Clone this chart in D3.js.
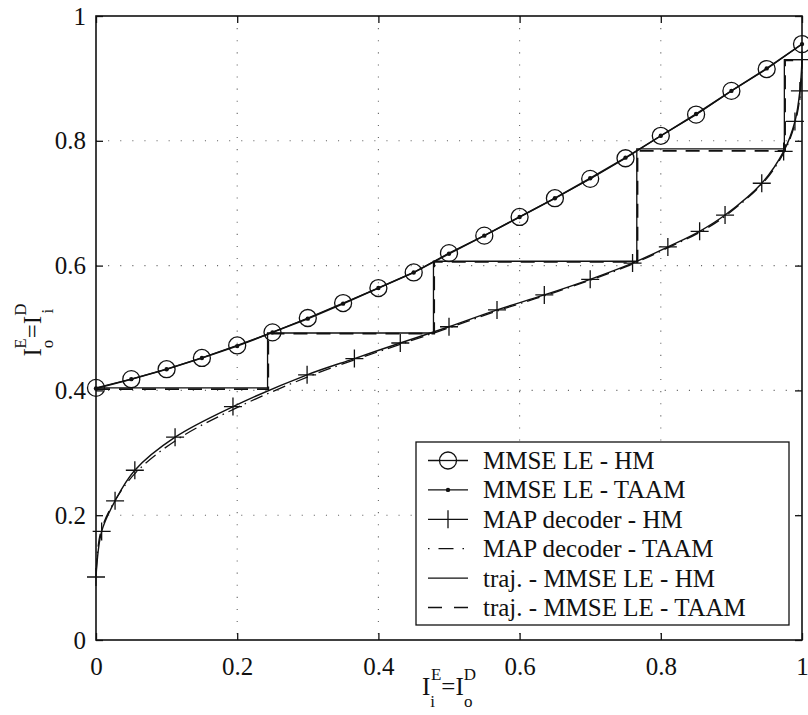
<!DOCTYPE html>
<html>
<head>
<meta charset="utf-8">
<script src="https://cdn.jsdelivr.net/npm/d3@7"></script>
<style>
  body { margin: 0; background: #fff; }
</style>
</head>
<body>
<div id="chart"></div>
<script>
// ---- data ----
var ticks = [0, 0.2, 0.4, 0.6, 0.8, 1];
var tickLabels = ["0", "0.2", "0.4", "0.6", "0.8", "1"];

// MMSE linear equaliser curves (circles / dots)
var mmseX = [0, 0.05, 0.1, 0.15, 0.2, 0.25, 0.3, 0.35, 0.4, 0.45, 0.5, 0.55, 0.6, 0.65, 0.7, 0.75, 0.8, 0.85, 0.9, 0.95, 1];
var mmseHM = [0.404, 0.418, 0.434, 0.452, 0.472, 0.493, 0.516, 0.540, 0.564, 0.589, 0.620, 0.648, 0.678, 0.708, 0.739, 0.772, 0.808, 0.842, 0.880, 0.915, 0.955];
var mmseTAAM = [0.403, 0.418, 0.434, 0.452, 0.471, 0.493, 0.515, 0.539, 0.564, 0.589, 0.619, 0.648, 0.678, 0.708, 0.740, 0.773, 0.808, 0.843, 0.880, 0.916, 0.955];

// MAP decoder curves (inverted axes)
var mapX = [0, 0.008, 0.027, 0.055, 0.112, 0.194, 0.299, 0.366, 0.431, 0.5, 0.568, 0.635, 0.70, 0.76, 0.81, 0.855, 0.891, 0.943, 0.974, 0.99, 0.997, 1.0];
var mapHM = [0.101, 0.174, 0.223, 0.272, 0.325, 0.374, 0.425, 0.451, 0.476, 0.502, 0.529, 0.553, 0.578, 0.604, 0.630, 0.655, 0.681, 0.732, 0.783, 0.831, 0.880, 0.930];
var mapTAAMx = [0, 0.006, 0.025, 0.057, 0.116, 0.199, 0.303, 0.369, 0.434, 0.502, 0.570, 0.636, 0.701, 0.761, 0.811, 0.856, 0.892, 0.946, 0.976, 0.991, 0.998, 1.0];
var mapTAAM = [0.100, 0.170, 0.220, 0.269, 0.322, 0.372, 0.423, 0.450, 0.475, 0.501, 0.528, 0.552, 0.577, 0.603, 0.629, 0.654, 0.680, 0.734, 0.785, 0.832, 0.880, 0.930];

// decoding trajectories (staircase corners)
var trajHMx = [0, 0.243, 0.243, 0.478, 0.478, 0.766, 0.766, 0.975, 0.975, 1.0];
var trajHMy = [0.404, 0.404, 0.492, 0.492, 0.607, 0.607, 0.787, 0.787, 0.930, 0.930];
var trajTAAMx = [0, 0.244, 0.244, 0.479, 0.479, 0.767, 0.767, 0.976, 0.976, 1.0];
var trajTAAMy = [0.402, 0.402, 0.491, 0.491, 0.606, 0.606, 0.784, 0.784, 0.929, 0.929];

var legendNames = ["MMSE LE - HM", "MMSE LE - TAAM", "MAP decoder - HM", "MAP decoder - TAAM", "traj. - MMSE LE - HM", "traj. - MMSE LE - TAAM"];

var serif = "'Liberation Serif'";

// ---- layout ----
var margin = { top: 16, right: 6, bottom: 75, left: 96 },
  width = 808 - margin.left - margin.right,
  height = 715 - margin.top - margin.bottom;

var root = d3.select("#chart").append("svg")
  .attr("width", 808)
  .attr("height", 715);
var svg = root.append("g")
  .attr("transform", "translate(" + margin.left + "," + margin.top + ")");

var x = d3.scaleLinear().domain([0, 1]).range([0, width]);
var y = d3.scaleLinear().domain([0, 1]).range([height, 0]);

function pts(xs, ys) { return xs.map(function (d, i) { return [d, ys[i]]; }); }

// grid (dotted)
var grid = ticks.slice(1, 5);
svg.append("g").selectAll("line").data(grid).enter().append("line")
  .attr("x1", function (d) { return x(d); }).attr("x2", function (d) { return x(d); })
  .attr("y1", 0).attr("y2", height)
  .attr("stroke", "#666").attr("stroke-width", 1.1).attr("stroke-dasharray", "1.1,11");
svg.append("g").selectAll("line").data(grid).enter().append("line")
  .attr("y1", function (d) { return y(d); }).attr("y2", function (d) { return y(d); })
  .attr("x1", 0).attr("x2", width)
  .attr("stroke", "#666").attr("stroke-width", 1.1).attr("stroke-dasharray", "1.1,11");

// axes, ticks inside, mirrored
var tickFmt = function (d, i) { return tickLabels[i]; };
var gx = svg.append("g").attr("transform", "translate(0," + height + ")")
  .call(d3.axisBottom(x).tickValues(ticks).tickFormat(tickFmt).tickSizeInner(-7).tickSizeOuter(0).tickPadding(16));
var gy = svg.append("g")
  .call(d3.axisLeft(y).tickValues(ticks).tickFormat(tickFmt).tickSizeInner(-7).tickSizeOuter(0).tickPadding(10));
svg.append("g")
  .call(d3.axisTop(x).tickValues(ticks).tickFormat("").tickSizeInner(-7).tickSizeOuter(0));
svg.append("g").attr("transform", "translate(" + width + ",0)")
  .call(d3.axisRight(y).tickValues(ticks).tickFormat("").tickSizeInner(-7).tickSizeOuter(0));
svg.selectAll(".domain").remove();
svg.selectAll(".tick line").attr("stroke", "#111").attr("stroke-width", 1.3);
svg.selectAll(".tick text").style("font-family", serif).style("font-size", "25px").attr("fill", "#111");
gx.selectAll(".tick text").attr("dy", "0.75em");

svg.append("rect")
  .attr("x", 0).attr("y", 0).attr("width", width).attr("height", height)
  .attr("fill", "none").attr("stroke", "#111").attr("stroke-width", 1.6);

var line = d3.line().x(function (d) { return x(d[0]); }).y(function (d) { return y(d[1]); });
var smooth = d3.line().curve(d3.curveCatmullRom.alpha(0.5))
  .x(function (d) { return x(d[0]); }).y(function (d) { return y(d[1]); });

// trajectories
svg.append("path").datum(pts(trajTAAMx, trajTAAMy)).attr("d", line)
  .attr("fill", "none").attr("stroke", "#111").attr("stroke-width", 1.8).attr("stroke-dasharray", "14,9");
svg.append("path").datum(pts(trajHMx, trajHMy)).attr("d", line)
  .attr("fill", "none").attr("stroke", "#111").attr("stroke-width", 1.3);

// MAP decoder curves
svg.append("path").datum(pts(mapTAAMx, mapTAAM)).attr("d", smooth)
  .attr("fill", "none").attr("stroke", "#111").attr("stroke-width", 1.3).attr("stroke-dasharray", "1.5,5,13,5");
svg.append("path").datum(pts(mapX, mapHM)).attr("d", smooth)
  .attr("fill", "none").attr("stroke", "#111").attr("stroke-width", 1.4);
svg.append("g").selectAll("path").data(pts(mapX, mapHM)).enter().append("path")
  .attr("d", "M-9,0H9M0,-9V9")
  .attr("transform", function (d) { return "translate(" + x(d[0]) + "," + y(d[1]) + ")"; })
  .attr("stroke", "#111").attr("stroke-width", 1.3);

// MMSE curves
svg.append("path").datum(pts(mmseX, mmseTAAM)).attr("d", line)
  .attr("fill", "none").attr("stroke", "#111").attr("stroke-width", 1.6);
svg.append("path").datum(pts(mmseX, mmseHM)).attr("d", line)
  .attr("fill", "none").attr("stroke", "#111").attr("stroke-width", 1.3);
svg.append("g").selectAll("circle").data(pts(mmseX, mmseHM)).enter().append("circle")
  .attr("cx", function (d) { return x(d[0]); }).attr("cy", function (d) { return y(d[1]); })
  .attr("r", 8.5).attr("fill", "none").attr("stroke", "#111").attr("stroke-width", 1.3);
svg.append("g").selectAll("circle").data(pts(mmseX, mmseTAAM)).enter().append("circle")
  .attr("cx", function (d) { return x(d[0]); }).attr("cy", function (d) { return y(d[1]); })
  .attr("r", 2.2).attr("fill", "#111");

// ---------------- LEGEND ----------------
var lg = root.append("g").attr("transform", "translate(416,442)");
lg.append("rect").attr("width", 373).attr("height", 183)
  .attr("fill", "#fff").attr("stroke", "#111").attr("stroke-width", 1.3);
var rows = lg.selectAll(".row").data(legendNames).enter().append("g")
  .attr("transform", function (d, i) { return "translate(0," + (18.5 + i * 29.4) + ")"; });
var dashes = [null, null, null, "1.5,9,15,9", null, "14,12"];
rows.append("line").attr("x1", 12).attr("x2", 52).attr("y1", 0).attr("y2", 0)
  .attr("stroke", "#111").attr("stroke-width", 1.3)
  .attr("stroke-dasharray", function (d, i) { return dashes[i]; });
rows.filter(function (d, i) { return i === 0; }).append("circle")
  .attr("cx", 32).attr("r", 8.5).attr("fill", "#fff").attr("stroke", "#111").attr("stroke-width", 1.3);
rows.filter(function (d, i) { return i === 0; }).append("line")
  .attr("x1", 23).attr("x2", 41).attr("stroke", "#111").attr("stroke-width", 1.3);
rows.filter(function (d, i) { return i === 1; }).append("circle")
  .attr("cx", 32).attr("r", 2.2).attr("fill", "#111");
rows.filter(function (d, i) { return i === 2; }).append("path")
  .attr("d", "M32,-9V9").attr("stroke", "#111").attr("stroke-width", 1.3);
rows.append("text").attr("x", 67).attr("y", 0).attr("dy", "0.34em")
  .attr("fill", "#111").style("font-family", serif)
  .style("font-size", "25px").text(function (d) { return d; });

// axis labels
var xl = root.append("text").attr("x", margin.left + width / 2).attr("y", 695)
  .attr("text-anchor", "middle").attr("fill", "#111")
  .style("font-family", serif).style("font-size", "25px");
xl.append("tspan").text("I");
xl.append("tspan").attr("dy", 12).style("font-size", "17px").text("i");
xl.append("tspan").attr("dy", -27).attr("dx", -4).style("font-size", "17px").text("E");
xl.append("tspan").attr("dy", 15).text("=I");
xl.append("tspan").attr("dy", -15).style("font-size", "17px").text("D");
xl.append("tspan").attr("dy", 27).attr("dx", -12).style("font-size", "17px").text("o");

var yl = root.append("text").attr("transform", "translate(41,330) rotate(-90)")
  .attr("text-anchor", "middle").attr("fill", "#111")
  .style("font-family", serif).style("font-size", "25px");
yl.append("tspan").text("I");
yl.append("tspan").attr("dy", 12).style("font-size", "17px").text("o");
yl.append("tspan").attr("dy", -27).attr("dx", -9).style("font-size", "17px").text("E");
yl.append("tspan").attr("dy", 15).text("=I");
yl.append("tspan").attr("dy", -15).style("font-size", "17px").text("D");
yl.append("tspan").attr("dy", 27).attr("dx", -10).style("font-size", "17px").text("i");
</script>
</body>
</html>
